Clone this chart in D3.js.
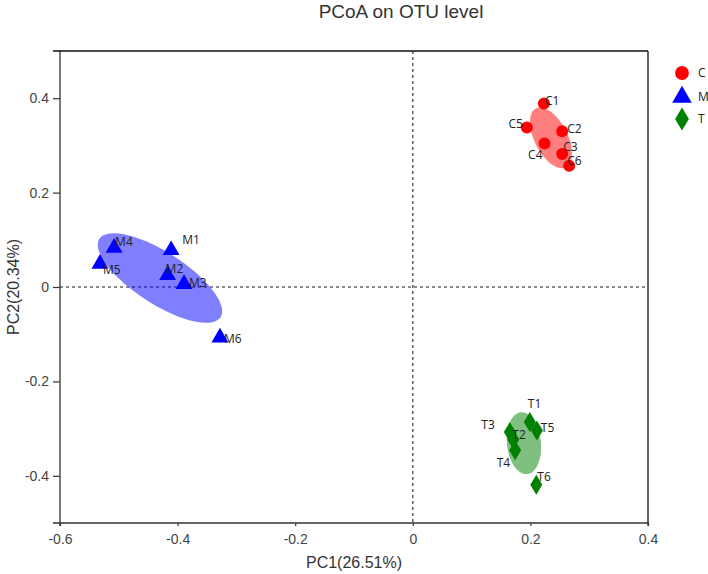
<!DOCTYPE html>
<html>
<head>
<meta charset="utf-8">
<script src="https://cdn.jsdelivr.net/npm/d3@7"></script>
<style>
  body { margin: 0; background: #fff; }
  svg { display: block; }
</style>
</head>
<body>
<div id="chart"></div>
<script>
// groups and their sample scores
const groups = ["C", "M", "T"];
const groupColors = ["#ff0000", "#0000ff", "#008000"];

const sampleNames = ["C1", "C2", "C3", "C4", "C5", "C6",
                     "M1", "M2", "M3", "M4", "M5", "M6",
                     "T1", "T2", "T3", "T4", "T5", "T6"];
const sampleGroup = ["C", "C", "C", "C", "C", "C",
                     "M", "M", "M", "M", "M", "M",
                     "T", "T", "T", "T", "T", "T"];
const pc1 = [0.223, 0.254, 0.254, 0.224, 0.194, 0.266,
             -0.411, -0.417, -0.389, -0.508, -0.532, -0.328,
             0.199, 0.171, 0.165, 0.174, 0.211, 0.210];
const pc2 = [0.389, 0.330, 0.282, 0.304, 0.338, 0.257,
             0.078, 0.025, 0.006, 0.083, 0.049, -0.107,
             -0.286, -0.323, -0.307, -0.346, -0.304, -0.419];

// group ellipses: centre and the two half-axis vectors, in PC units
const ellipseCenterX = [0.235, -0.430, 0.189];
const ellipseCenterY = [0.316, 0.019, -0.331];
const ellipseAxisA = [[0.0255, -0.0624], [0.103, -0.083], [0.0055, -0.0654]];
const ellipseAxisB = [[-0.025, -0.0159], [-0.024, -0.046], [-0.0287, -0.0038]];

const xTicks = [-0.6, -0.4, -0.2, 0, 0.2, 0.4];
const yTicks = [-0.4, -0.2, 0, 0.2, 0.4];

const chartTitle = "PCoA on OTU level";
const xTitle = "PC1(26.51%)";
const yTitle = "PC2(20.34%)";

// label placement next to each point (pixels), like the repelled labels
const labelNudge = {
    C1: [1, -3, "start"], C2: [5, -2, "start"], C3: [1, -7, "start"],
    C4: [-2, 11, "end"], C5: [-4, -4, "end"], C6: [-2, -5, "start"],
    M1: [11, -10, "start"], M2: [-2, -6, "start"], M3: [5, -1, "start"],
    M4: [1, -6, "start"], M5: [3, 6, "start"], M6: [4, 1, "start"],
    T1: [-2, -18, "start"], T2: [-1, -5, "start"], T3: [-15, -7, "end"],
    T4: [-5, 12, "end"], T5: [4, -3, "start"], T6: [1, -8, "start"]
};

const W = 708, H = 574;
const margin = { top: 51, right: 60, bottom: 51, left: 60 };
const width = W - margin.left - margin.right;
const height = H - margin.top - margin.bottom;

const svg = d3.select("#chart").append("svg")
    .attr("width", W)
    .attr("height", H);

const g = svg.append("g")
    .attr("transform", `translate(${margin.left},${margin.top})`);

const x = d3.scaleLinear().domain([-0.6, 0.4]).range([0, width]);
const y = d3.scaleLinear().domain([-0.5, 0.5]).range([height, 0]);
const color = d3.scaleOrdinal().domain(groups).range(groupColors);

// plain hyphen for negatives, as in the original
const tickFmt = d => d === 0 ? "0" : d3.format(".1f")(d).replace("\u2212", "-");

const samples = sampleNames.map((name, i) => ({
    name: name, group: sampleGroup[i], pc1: pc1[i], pc2: pc2[i]
}));

// title
svg.append("text")
    .attr("x", 401)
    .attr("y", 18)
    .attr("text-anchor", "middle")
    .style("font-family", "Liberation Sans, Arial, sans-serif")
    .style("font-size", "19px")
    .style("fill", "#333")
    .text(chartTitle);

// zero reference lines
g.append("line")
    .attr("x1", x(0)).attr("x2", x(0))
    .attr("y1", 0).attr("y2", height)
    .attr("stroke", "#666")
    .attr("stroke-width", 1.6)
    .attr("stroke-dasharray", "3,3");
g.append("line")
    .attr("x1", 0).attr("x2", width)
    .attr("y1", y(0)).attr("y2", y(0))
    .attr("stroke", "#666")
    .attr("stroke-width", 1.6)
    .attr("stroke-dasharray", "3,3");

// ellipses
const steps = d3.range(0, 361, 4).map(d => d * Math.PI / 180);
const ellipseLine = d3.line().curve(d3.curveLinearClosed);
groups.forEach((grp, i) => {
    const a = ellipseAxisA[i], b = ellipseAxisB[i];
    const pts = steps.map(t => [
        x(ellipseCenterX[i] + a[0] * Math.cos(t) + b[0] * Math.sin(t)),
        y(ellipseCenterY[i] + a[1] * Math.cos(t) + b[1] * Math.sin(t))
    ]);
    g.append("path")
        .attr("d", ellipseLine(pts))
        .attr("fill", color(grp))
        .attr("fill-opacity", 0.5)
        .attr("stroke", "none");
});

// axes
const xAxis = g.append("g")
    .attr("transform", `translate(0,${height})`)
    .call(d3.axisBottom(x).tickValues(xTicks).tickSize(3).tickSizeOuter(0)
        .tickFormat(tickFmt));
const yAxis = g.append("g")
    .call(d3.axisLeft(y).tickValues(yTicks).tickSize(7).tickSizeOuter(0)
        .tickFormat(tickFmt));

[xAxis, yAxis].forEach(ax => {
    ax.select(".domain").attr("stroke", "#333").attr("stroke-width", 1.3);
    ax.selectAll(".tick line").attr("stroke", "#333").attr("stroke-width", 1.2);
    ax.selectAll(".tick text")
        .style("font-family", "Liberation Sans, Arial, sans-serif")
        .style("font-size", "14px")
        .style("fill", "#444");
});
xAxis.selectAll(".tick text").attr("dy", "1.1em");
yAxis.selectAll(".tick text").attr("x", -11);

// extend the domain lines past the corner and close the frame
xAxis.select(".domain").attr("d", `M-7,0H${width}V3`);
yAxis.select(".domain").attr("d", `M0,0V${height + 3}`);
g.append("line")
    .attr("x1", -7).attr("x2", width)
    .attr("y1", 0).attr("y2", 0)
    .attr("stroke", "#111").attr("stroke-width", 1.3);
g.append("line")
    .attr("x1", width).attr("x2", width)
    .attr("y1", 0).attr("y2", height)
    .attr("stroke", "#111").attr("stroke-width", 1.3);

// axis titles
svg.append("text")
    .attr("x", margin.left + width / 2)
    .attr("y", 568)
    .attr("text-anchor", "middle")
    .style("font-family", "Liberation Sans, Arial, sans-serif")
    .style("font-size", "16px")
    .style("fill", "#333")
    .text(xTitle);
svg.append("text")
    .attr("transform", `translate(19,${margin.top + y(0)}) rotate(-90)`)
    .attr("text-anchor", "middle")
    .style("font-family", "Liberation Sans, Arial, sans-serif")
    .style("font-size", "16px")
    .style("fill", "#333")
    .text(yTitle);

// shapes
function shapePath(grp, scale) {
    if (grp === "C") return d3.symbol(d3.symbolCircle, 113 * scale * scale)();
    if (grp === "M") return d3.symbol(d3.symbolTriangle, 125 * scale * scale)();
    const hw = 6 * scale, hh = 10 * scale;
    return `M0,${-hh}L${hw},0L0,${hh}L${-hw},0Z`;
}

// points
g.selectAll(".pt")
    .data(samples)
    .enter().append("path")
    .attr("class", "pt")
    .attr("transform", d => `translate(${x(d.pc1)},${y(d.pc2)})`)
    .attr("d", d => shapePath(d.group, 1))
    .attr("fill", d => color(d.group));

// point labels
g.selectAll(".lbl")
    .data(samples)
    .enter().append("text")
    .attr("class", "lbl")
    .attr("x", d => x(d.pc1) + labelNudge[d.name][0])
    .attr("y", d => y(d.pc2) + labelNudge[d.name][1])
    .attr("dy", "0.35em")
    .attr("text-anchor", d => labelNudge[d.name][2])
    .style("font-family", "Open Sans, sans-serif")
    .style("font-size", "12px")
    .style("fill", "#222")
    .text(d => d.name);

// legend
const legend = svg.append("g").attr("transform", "translate(682,73)");
groups.forEach((grp, i) => {
    const row = legend.append("g").attr("transform", `translate(0,${[0, 24, 46][i]})`);
    row.append("path")
        .attr("d", shapePath(grp, 1.15))
        .attr("fill", color(grp));
    row.append("text")
        .attr("x", 16)
        .attr("dy", "0.35em")
        .style("font-family", "Open Sans, sans-serif")
        .style("font-size", "12px")
        .style("fill", "#222")
        .text(grp);
});
</script>
</body>
</html>
